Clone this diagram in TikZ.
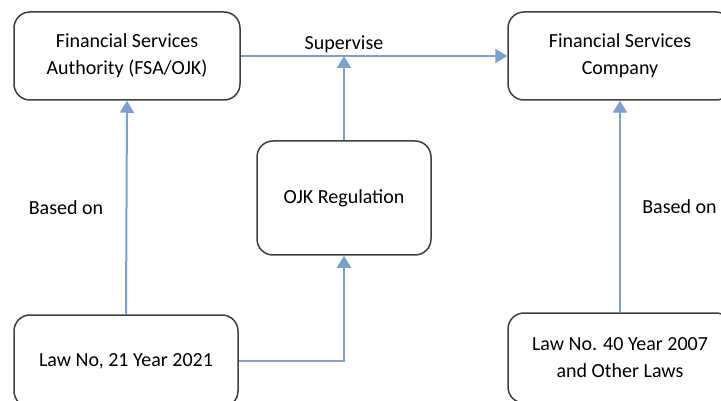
\documentclass[tikz,border=0pt]{standalone}
\usepackage{fontspec}
\setmainfont{Carlito}
\usepackage{tikz}
\usetikzlibrary{arrows.meta, positioning, calc}
\definecolor{linkblue}{RGB}{124,160,212}
\definecolor{boxgray}{RGB}{64,64,64}

\begin{document}
\begin{tikzpicture}[x=1pt, y=-1pt,
    box/.style={rectangle, draw=boxgray, line width=1.5pt, rounded corners=16pt, fill=white, font=\fontsize{20}{27}\selectfont, align=center},
    link/.style={draw=linkblue, line width=2pt, -{Triangle[length=12pt, width=14pt]}},
    lbl/.style={font=\fontsize{20}{27}\selectfont}]
      \useasboundingbox (0,0) rectangle (721,401);
      \clip (0,0) rectangle (721,401);

      % Authority
      \node[box, minimum width=226pt, minimum height=88pt] (fsa) at (127,56) {Financial Services\\Authority (FSA/OJK)};

      % Company
      \node[box, minimum width=224pt, minimum height=88pt] (company) at (620,56) {Financial Services\\Company};

      % Regulation
      \node[box, minimum width=174pt, minimum height=114pt] (ojk) at (344,198) {OJK Regulation};

      % Laws
      \node[box, minimum width=224pt, minimum height=92pt] (law21) at (126,361) {Law No, 21 Year 2021};
      \node[box, minimum width=224pt, minimum height=90pt] (law40) at (620,358) {Law No. 40 Year 2007\\and Other Laws};

      % Arrows
      \coordinate (sup) at (ojk.north |- fsa.east);
      \draw[link] (fsa.east) -- (company.west);
      \node[lbl, above=0pt of sup] (suplbl) {Supervise};
      \draw[link] (ojk.north) -- (sup);
      \draw[link] (law21.east) -| (ojk.south);
      \draw[link] (law21.north) -- node[lbl, left=19pt] (basedl) {Based on} (fsa.south);
      \draw[link] (law40.north) -- node[lbl, right=18pt] (basedr) {Based on} (company.south);
    \end{tikzpicture}
\end{document}
